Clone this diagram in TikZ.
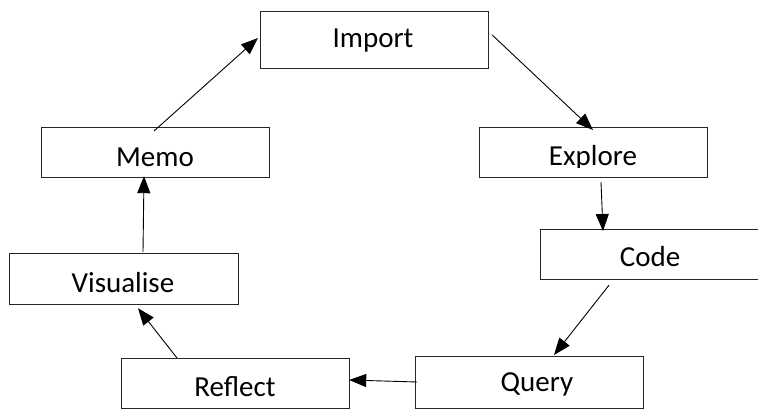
\documentclass[tikz,border=0pt]{standalone}
\usepackage{fontspec}
\setmainfont{Carlito}
\usetikzlibrary{arrows.meta,calc}
\begin{document}
\begin{tikzpicture}[x=1pt,y=-1pt,
  box/.style={draw=black!85, line width=1.2pt, fill=white, inner sep=0pt,
              minimum height=50pt, anchor=north west},
  lbl/.style={anchor=base, inner sep=0pt, font=\fontsize{29}{31}\selectfont},
  flow/.style={line width=0.9pt, -{Triangle[length=17pt,width=13pt]}}]
  \useasboundingbox (0,0) rectangle (758,411);

  % boxes (top-left corner, width x height)
  \node[box, minimum width=228pt, minimum height=57pt] (import) at (260,11) {};
  \node[box, minimum width=228pt] (explore) at (479,127) {};
  \node[box, minimum width=224pt] (code) at (540,229) {};
  \node[box, minimum width=228pt, minimum height=52pt] (query) at (415,356) {};
  \node[box, minimum width=228pt] (reflect) at (121,358) {};
  \node[box, minimum width=229pt, minimum height=51pt] (visualise) at (9,253) {};
  \node[box, minimum width=228pt] (memo) at (41,127) {};

  % labels
  \node[lbl] (import-t) at (373,48) {Import};
  \begin{scope}
    \clip (479,127) rectangle (707,167.5);
    \node[lbl] (explore-t) at (593,166) {Explore};
  \end{scope}
  \node[lbl] (code-t) at (650,267) {Code};
  \node[lbl] (query-t) at (537,392) {Query};
  \node[lbl] (reflect-t) at (235,397) {Reflect};
  \node[lbl] (visualise-t) at (123,293) {Visualise};
  \node[lbl] (memo-t) at (155,167) {Memo};

  % connector end points
  \coordinate (m1) at ($(memo.north west)+(113,4)$);
  \coordinate (i1) at ($(import.north west)+(-2,27)$);
  \coordinate (i2) at ($(import.north east)+(3,24)$);
  \coordinate (e1) at ($(explore.north west)+(114,3)$);
  \coordinate (e2) at ($(explore.south west)+(122,4)$);
  \coordinate (c1) at ($(code.north west)+(63,2)$);
  \coordinate (c2) at ($(code.south west)+(69,5)$);
  \coordinate (q1) at ($(query.north west)+(139,-1)$);
  \coordinate (q2) at ($(query.north west)+(2,26)$);
  \coordinate (r1) at ($(reflect.north east)+(-1,22)$);
  \coordinate (r2) at ($(reflect.north west)+(56,0)$);
  \coordinate (v1) at ($(visualise.south west)+(129,3)$);
  \coordinate (v2) at ($(visualise.north west)+(134,-1)$);
  \coordinate (m2) at ($(memo.south west)+(103,-2)$);

  % cycle of connectors
  \draw[flow] (m1) -- (i1);
  \draw[flow] (i2) -- (e1);
  \draw[flow] (e2) -- (c1);
  \draw[flow] (c2) -- (q1);
  \draw[flow] (q2) -- (r1);
  \draw[flow] (r2) -- (v1);
  \draw[flow] (v2) -- (m2);
\end{tikzpicture}
\end{document}
